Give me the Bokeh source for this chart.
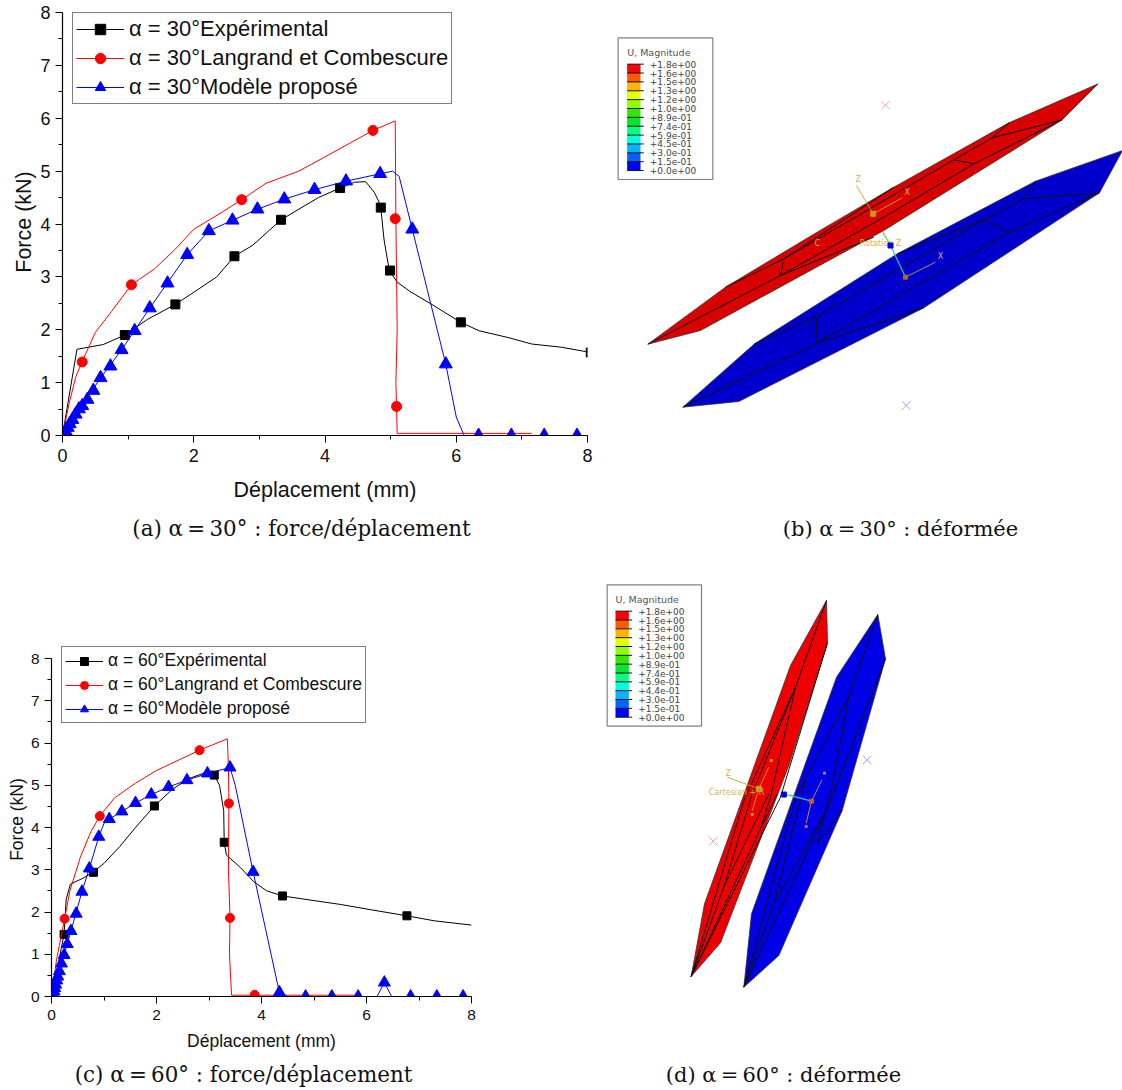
from bokeh.plotting import figure
from bokeh.layouts import column, row
from bokeh.models import Range1d, Legend, LegendItem, FixedTicker, Label
from bokeh.core.properties import value
from bokeh.embed import file_html
from bokeh.resources import INLINE

# ---------- (a) alpha = 30 ----------
a_exp_x = [0, 0.22, 0.62, 0.95, 1.3, 1.72, 2.05, 2.35, 2.62, 2.9, 3.33, 3.9, 4.23, 4.45, 4.62, 4.75, 4.83, 4.85, 4.9, 4.98, 5.1, 5.3, 5.6, 6.07, 6.35, 6.8, 7.15, 7.6, 8.05]
a_exp_y = [0, 1.63, 1.72, 1.9, 2.2, 2.48, 2.75, 3.0, 3.39, 3.6, 4.08, 4.5, 4.68, 4.79, 4.8, 4.6, 4.4, 4.31, 3.7, 3.12, 2.9, 2.72, 2.5, 2.14, 1.98, 1.85, 1.73, 1.67, 1.57]
a_exp_mx = [0.95, 1.72, 2.62, 3.33, 4.23, 4.85, 4.99, 6.07, 8.05]
a_exp_my = [1.9, 2.48, 3.39, 4.08, 4.68, 4.31, 3.12, 2.14, 1.57]

a_lc_x = [0, 0.1, 0.2, 0.3, 0.5, 0.75, 1.05, 1.4, 1.7, 2.0, 2.4, 2.73, 3.1, 3.6, 4.0, 4.73, 5.07, 5.08, 5.1, 5.08, 5.09, 5.1, 7.15]
a_lc_y = [0, 0.6, 1.1, 1.4, 1.95, 2.35, 2.85, 3.15, 3.5, 3.9, 4.2, 4.46, 4.77, 5.0, 5.27, 5.77, 5.95, 4.1, 2.0, 1.0, 0.55, 0.04, 0.04]
a_lc_mx = [0.3, 1.05, 2.73, 4.73, 5.07, 5.09]
a_lc_my = [1.39, 2.85, 4.46, 5.77, 4.1, 0.55]

a_mod_x = [0, 0.58, 0.9, 1.33, 1.9, 2.23, 2.59, 2.97, 3.38, 3.84, 4.32, 4.84, 5.03, 5.13, 5.33, 5.84, 6.0, 6.12, 8.0]
a_mod_y = [0, 1.09, 1.62, 2.41, 3.42, 3.87, 4.07, 4.28, 4.47, 4.65, 4.81, 4.95, 5.0, 4.9, 3.9, 1.35, 0.35, 0, 0]
a_mod_mx = [0.02, 0.05, 0.08, 0.11, 0.15, 0.2, 0.25, 0.3, 0.38, 0.47, 0.58, 0.73, 0.9, 1.1, 1.33, 1.6, 1.9, 2.23, 2.59, 2.97, 3.38, 3.84, 4.32, 4.84, 5.33, 5.84, 6.34, 6.84, 7.34, 7.84]
a_mod_my = [0.04, 0.08, 0.15, 0.22, 0.3, 0.4, 0.5, 0.56, 0.68, 0.85, 1.09, 1.31, 1.62, 1.98, 2.41, 2.88, 3.42, 3.87, 4.07, 4.28, 4.47, 4.65, 4.81, 4.95, 3.9, 1.35, 0, 0, 0, 0]

# ---------- (c) alpha = 60 ----------
c_exp_x = [0, 0.05, 0.24, 0.28, 0.36, 0.6, 0.8, 1.0, 1.3, 1.6, 1.96, 2.3, 2.6, 3.0, 3.1, 3.2, 3.28, 3.29, 3.33, 3.6, 3.85, 4.1, 4.4, 5, 5.5, 6.1, 6.77, 7.3, 8]
c_exp_y = [0, 0.3, 1.47, 2.3, 2.66, 2.8, 2.95, 3.15, 3.55, 4.0, 4.51, 4.9, 5.15, 5.33, 5.24, 5.0, 4.4, 3.65, 3.35, 3.05, 2.72, 2.5, 2.38, 2.27, 2.18, 2.05, 1.91, 1.79, 1.69]
c_exp_mx = [0.24, 0.8, 1.96, 3.1, 3.29, 4.4, 6.77]
c_exp_my = [1.47, 2.94, 4.51, 5.24, 3.65, 2.38, 1.91]

c_lc_x = [0, 0.1, 0.25, 0.35, 0.55, 0.75, 0.92, 1.2, 1.6, 2.0, 2.82, 3.35, 3.37, 3.38, 3.37, 3.4, 3.39, 3.43, 5.85]
c_lc_y = [0, 0.9, 1.84, 2.5, 3.3, 3.9, 4.27, 4.7, 5.05, 5.35, 5.83, 6.1, 5.4, 4.57, 3.0, 1.86, 1.0, 0.03, 0.03]
c_lc_mx = [0.25, 0.92, 2.82, 3.38, 3.4, 3.87]
c_lc_my = [1.84, 4.27, 5.83, 4.57, 1.86, 0.04]

c_mod_x = [0, 0.3, 0.58, 0.72, 0.9, 1.0, 1.1, 1.34, 1.6, 1.9, 2.23, 2.58, 2.97, 3.4, 3.5, 3.84, 4.34, 4.5, 6.2, 6.34, 6.48, 8]
c_mod_y = [0, 1.24, 2.48, 3.03, 3.78, 4.1, 4.2, 4.38, 4.58, 4.78, 4.96, 5.12, 5.28, 5.42, 5.0, 2.95, 0.1, 0, 0, 0.33, 0, 0]
c_mod_mx = [0.03, 0.05, 0.06, 0.08, 0.1, 0.12, 0.15, 0.19, 0.24, 0.3, 0.37, 0.47, 0.58, 0.72, 0.9, 1.1, 1.34, 1.6, 1.9, 2.23, 2.58, 2.97, 3.4, 3.84, 4.34, 4.84, 5.34, 5.84, 6.34, 6.84, 7.34, 7.84]
c_mod_my = [0.05, 0.12, 0.2, 0.28, 0.38, 0.47, 0.6, 0.78, 0.98, 1.24, 1.55, 1.96, 2.48, 3.03, 3.78, 4.2, 4.38, 4.58, 4.78, 4.96, 5.12, 5.28, 5.42, 2.95, 0.1, 0, 0, 0, 0.33, 0, 0, 0]

x_ticks = [0, 2, 4, 6, 8]
y_ticks = [0, 1, 2, 3, 4, 5, 6, 7, 8]
x_label = "Déplacement (mm)"
y_label = "Force (kN)"
names = ["Expérimental", "Langrand et Combescure", "Modèle proposé"]

# ---------- FE pictures ----------
band_colors = ["#ff0000", "#ff5a00", "#ffb400", "#e6ff00", "#8cff00", "#32e600", "#00e632", "#00ff82", "#00ffe1", "#00b4ff", "#0064ff", "#0000ff"]
b_levels = ["+1.8e+00", "+1.6e+00", "+1.5e+00", "+1.3e+00", "+1.2e+00", "+1.0e+00", "+8.9e-01", "+7.4e-01", "+5.9e-01", "+4.5e-01", "+3.0e-01", "+1.5e-01", "+0.0e+00"]
d_levels = ["+1.8e+00", "+1.6e+00", "+1.5e+00", "+1.3e+00", "+1.2e+00", "+1.0e+00", "+8.9e-01", "+7.4e-01", "+5.9e-01", "+4.4e-01", "+3.0e-01", "+1.5e-01", "+0.0e+00"]

b_red_x = [112, 345, 620, 850, 1195, 1463, 1355, 820, 270]
b_red_y = [941, 770, 605, 470, 277, 160, 268, 600, 900]
b_blue_x = [217, 432, 860, 1275, 1536, 1467, 940, 385]
b_blue_y = [1130, 940, 670, 452, 360, 487, 832, 1113]
b_edges = [
    ([112, 510, 820, 1090, 1355, 1145, 1195], [941, 735, 560, 400, 268, 322, 277]),
    ([510, 520, 1030, 1090], [735, 685, 388, 400]),
    ([510, 790], [735, 620]),
    ([1030, 1145], [388, 322]),
    ([345, 520, 850], [770, 685, 470]),
    ([217, 620, 1197, 1467, 1240, 1275], [1130, 938, 605, 487, 505, 452]),
    ([432, 617, 1120, 1197], [940, 860, 568, 605]),
    ([617, 620, 940], [860, 938, 832]),
    ([1120, 1240], [568, 505]),
    ([860, 1120], [670, 568]),
]
b_gold = [
    ([738, 788], [465, 550]), ([788, 875], [550, 502]), ([885, 975], [740, 695]),
]
b_gold_text = [(735, 448, "Z"), (882, 487, "X"), (612, 638, "C"), (982, 678, "X"), (748, 640, "Rotation Z")]
b_rod = ([817, 840, 885], [605, 645, 740])
b_dots = [(788, 550, "#c99a10", 5), (885, 740, "#c8620a", 4)]
b_cross_red = ([825], [224])
b_cross_blue = ([887], [1125])

d_red_x = [272, 312, 570, 678, 681, 565, 360]
d_red_y = [1188, 970, 255, 60, 187, 555, 1087]
d_blue_x = [430, 453, 600, 708, 832, 855, 725, 535]
d_blue_y = [1220, 1000, 590, 290, 102, 235, 690, 1125]
d_edges = [
    ([678, 585, 430, 272], [60, 320, 660, 1188]),
    ([585, 455, 370, 272], [320, 640, 920, 1188]),
    ([585, 510, 480, 272], [320, 650, 745, 1188]),
    ([681, 540, 272], [187, 650, 1188]),
    ([505, 370], [640, 920]),
    ([480, 530], [745, 640]),
    ([832, 745, 585, 430], [102, 348, 650, 1220]),
    ([745, 692, 650, 725], [348, 630, 790, 690]),
    ([855, 680, 430], [235, 685, 1220]),
    ([615, 520, 430], [600, 970, 1220]),
    ([520, 680], [970, 685]),
]
d_gold = [
    ([380, 475], [590, 625]), ([475, 505], [625, 560]), ([475, 455], [625, 690]),
    ([633, 665], [662, 597]), ([633, 617], [662, 728]),
]
d_gold_text = [(375, 580, "Z"), (325, 637, "Cartesian + R")]
d_rod = ([550, 565, 633], [642, 644, 662])
d_dots = [(475, 625, "#c9a010", 5), (633, 662, "#c8620a", 4), (512, 540, "#d9a020", 2), (672, 578, "#c08020", 2), (455, 702, "#d9a020", 2), (617, 738, "#c08020", 2)]
d_cross_red = ([338], [782])
d_cross_blue = ([800], [538])

SANS = "Liberation Sans"
SERIF = "DejaVu Serif"


def chart(w, h, left, top, right, bottom, ymax, series, angle, leg_loc, leg_font, tick_font, label_font,
          msize, glyph_w, glyph_h, spacing, pad, standoff_x, standoff_y, tick_standoff):
    p = figure(width=w, height=h, x_range=Range1d(0, 8), y_range=Range1d(0, ymax),
               output_backend="svg", toolbar_location=None,
               min_border_left=left, min_border_top=top, min_border_right=right, min_border_bottom=bottom,
               outline_line_color=None, frame_align=False)
    p.grid.visible = False
    p.xaxis.ticker = FixedTicker(ticks=x_ticks, minor_ticks=[1, 3, 5, 7])
    p.yaxis.ticker = FixedTicker(ticks=y_ticks, minor_ticks=[v + 0.5 for v in y_ticks[:-1]])
    p.yaxis.bounds = (0, 8)
    p.xaxis.axis_label = x_label
    p.yaxis.axis_label = y_label
    p.xaxis.axis_label_standoff = standoff_x
    p.yaxis.axis_label_standoff = standoff_y
    p.xaxis.major_label_standoff = tick_standoff
    for ax in (p.xaxis[0], p.yaxis[0]):
        ax.axis_line_color = "black"
        ax.axis_line_width = 1.2
        ax.major_tick_line_color = "black"
        ax.minor_tick_line_color = "black"
        ax.major_tick_in = 0
        ax.minor_tick_in = 0
        ax.major_tick_out = 7
        ax.minor_tick_out = 4
        ax.major_label_text_font = SANS
        ax.major_label_text_font_size = tick_font
        ax.major_label_text_color = "#111111"
        ax.axis_label_text_font = SANS
        ax.axis_label_text_font_size = label_font
        ax.axis_label_text_font_style = "normal"
        ax.axis_label_text_color = "#111111"
    items = []
    styles = [("black", "square", msize), ("red", "circle", msize + 1), ("blue", "triangle", msize + 4)]
    for (sx, sy, mx, my), (col, mk, ms), nm in zip(series, styles, names):
        ln = p.line(sx, sy, line_color=col, line_width=1)
        sc = p.scatter(mx, my, marker=mk, size=ms, fill_color=col, line_color=col)
        items.append(LegendItem(label=value(f"α = {angle}°{nm}"), renderers=[ln, sc]))
    leg = Legend(items=items, location=leg_loc, margin=0, padding=pad, spacing=spacing,
                 glyph_width=glyph_w, glyph_height=glyph_h, label_standoff=5,
                 label_text_font=SANS, label_text_font_size=leg_font, label_text_color="#111111",
                 label_height=glyph_h, border_line_color="black", border_line_width=1,
                 background_fill_color="white", background_fill_alpha=1)
    p.add_layout(leg)
    return p


def caption_strip(w, h, text, cx, cy, size):
    p = figure(width=w, height=h, x_range=Range1d(0, w), y_range=Range1d(0, h),
               x_axis_type=None, y_axis_type=None, output_backend="svg", toolbar_location=None,
               min_border=0, outline_line_color=None, frame_align=False)
    p.add_layout(Label(x=cx, y=cy, text=text, text_font=SERIF, text_font_size=size, text_align="center",
                       text_baseline="middle", text_color="#111111"))
    return p


def picture(w, h, xr, yr, fills, edges, gold, gold_text, rod, square_at, dots, crosses, box, levels, caption, cap_x, cap_y):
    p = figure(width=w, height=h, x_range=Range1d(*xr), y_range=Range1d(*yr),
               x_axis_type=None, y_axis_type=None, output_backend="svg", toolbar_location=None,
               min_border=0, outline_line_color=None, frame_align=False)
    for fx, fy, col in fills:
        p.patch(fx, fy, fill_color=col, line_color="#333333", line_width=0.8)
    p.multi_line([e[0] for e in edges], [e[1] for e in edges], line_color="#111111", line_width=1)
    p.multi_line([g[0] for g in gold], [g[1] for g in gold], line_color="#c9a227", line_width=1, line_alpha=0.9)
    p.text([t[0] for t in gold_text], [t[1] for t in gold_text], text=[t[2] for t in gold_text],
           text_color="#d9b44a", text_font=value("DejaVu Sans"), text_font_size="8px",
           text_align="left", text_baseline="middle")
    p.line(rod[0][:2], rod[1][:2], line_color="#70e030", line_width=1.2)
    p.line(rod[0][1:], rod[1][1:], line_color="#30c4b0", line_width=1.2)
    p.scatter([rod[0][square_at]], [rod[1][square_at]], marker="square", size=5, fill_color="#0000e0", line_color="#0000e0")
    p.scatter([d[0] for d in dots], [d[1] for d in dots], marker="square", size=[d[3] for d in dots],
              fill_color=[d[2] for d in dots], line_color=[d[2] for d in dots])
    p.scatter(crosses[0][0], crosses[0][1], marker="x", size=12, line_color="#f4a0a0", line_width=1)
    p.scatter(crosses[1][0], crosses[1][1], marker="x", size=12, line_color="#a0a0f4", line_width=1)
    # legend box
    bx0, by0, bx1, by1, tx, ty, cx0, cx1, cy0, step, lx = box
    p.quad(left=[bx0], right=[bx1], top=[by0], bottom=[by1], fill_color="white", line_color="#808080", line_width=1.2)
    p.text([tx], [ty], text=["U, Magnitude"], text_color="#555555", text_font=value("DejaVu Sans"),
           text_font_size="9.5px", text_align="left", text_baseline="middle")
    tops = [cy0 + i * step for i in range(12)]
    bots = [cy0 + (i + 1) * step for i in range(12)]
    p.quad(left=[cx0] * 12, right=[cx1] * 12, top=tops, bottom=bots, fill_color=band_colors, line_color=None)
    ys = [cy0 + i * step for i in range(13)]
    p.segment([cx0] * 13, ys, [cx1 + 10] * 13, ys, line_color="#111111", line_width=1)
    p.text([lx] * 13, ys, text=levels, text_color="#444444", text_font=value("DejaVu Sans"),
           text_font_size="9px", text_align="left", text_baseline="middle")
    p.add_layout(Label(x=cap_x, y=cap_y, x_units="screen", y_units="screen", text=caption,
                       text_font=SERIF, text_font_size="21px", text_align="center",
                       text_baseline="middle", text_color="#111111"))
    return p


pa = chart(600, 505, 62, 8, 13, 70, 8.076,
           [(a_exp_x, a_exp_y, a_exp_mx, a_exp_my), (a_lc_x, a_lc_y, a_lc_mx, a_lc_my), (a_mod_x, a_mod_y, a_mod_mx, a_mod_my)],
           30, (10, 331), "22px", "18px", "21.5px", 9, 48, 26, 3, 3, 13, 1, 6)
cap_a = caption_strip(600, 45, "(a) α\u2009=\u200930° : force/déplacement", 301, 22, "21.4px")
pc = chart(600, 505, 51, 92, 129, 59, 8.379,
           [(c_exp_x, c_exp_y, c_exp_mx, c_exp_my), (c_lc_x, c_lc_y, c_lc_mx, c_lc_my), (c_mod_x, c_mod_y, c_mod_mx, c_mod_my)],
           60, (10, 273), "17.5px", "15.5px", "17.5px", 8, 38, 20, 3, 3, 8, 1, 6)
cap_c = caption_strip(600, 35, "(c) α\u2009=\u200960° : force/déplacement", 243, 16, "21.4px")

pb = picture(522, 550, (-30, 1536), (1560, -90),
             [(b_red_x, b_red_y, "#d90000"), (b_blue_x, b_blue_y, "#0000cc")],
             b_edges, b_gold, b_gold_text, b_rod, 1, b_dots, (b_cross_red, b_cross_blue),
             (23, 22, 307, 447, 50, 67, 50, 90, 101, 26.6, 118), b_levels,
             "(b) α\u2009=\u200930° : déformée", 300, 22)
pd = picture(522, 540, (0, 1566), (1530, -90),
             [(d_red_x, d_red_y, "#ee0000"), (d_blue_x, d_blue_y, "#0000e6")],
             d_edges, d_gold, d_gold_text, d_rod, 0, d_dots, (d_cross_red, d_cross_blue),
             (20, 13, 303, 437, 45, 58, 45, 85, 92, 26.5, 113), d_levels,
             "(d) α\u2009=\u200960° : déformée", 183, 16)

root = row(column(pa, cap_a, pc, cap_c, spacing=0), column(pb, pd, spacing=0), spacing=0,
           styles={"position": "absolute", "left": "0px", "top": "0px"})
open("out.html", "w").write(file_html(root, INLINE))
